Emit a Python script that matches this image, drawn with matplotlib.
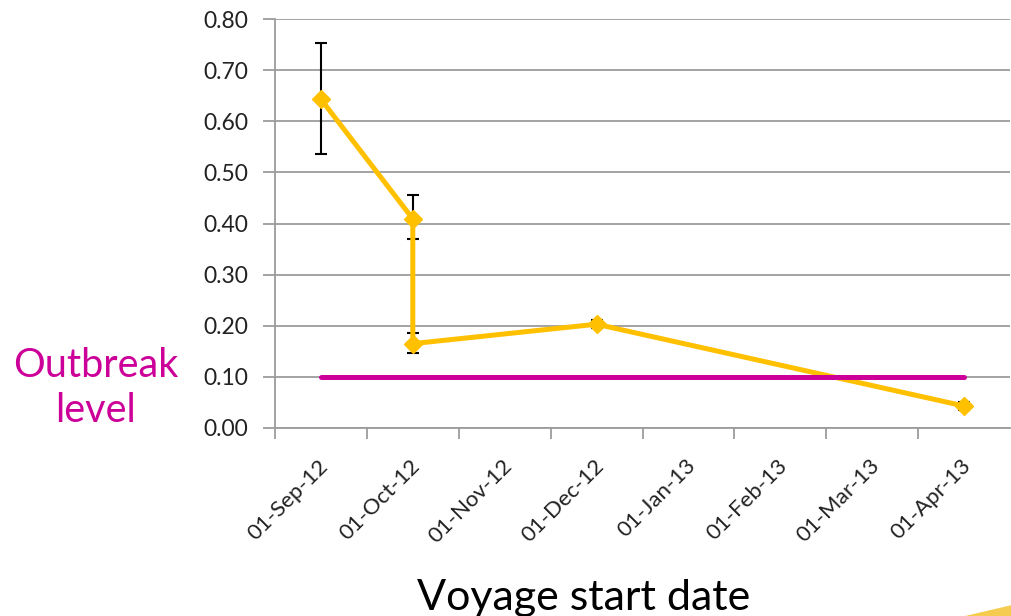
import numpy as np
import pandas as pd
from matplotlib import pyplot as plt
from matplotlib.transforms import ScaledTranslation
from matplotlib.patches import Polygon

# months shown on the date axis (Excel style, one slot per month)
month_labels = ['01-Sep-12', '01-Oct-12', '01-Nov-12', '01-Dec-12',
                '01-Jan-13', '01-Feb-13', '01-Mar-13', '01-Apr-13']

voyage_dates = ['2012-09-01', '2012-10-01', '2012-10-01', '2012-12-01', '2013-04-01']
attack_rate = [0.643, 0.409, 0.165, 0.203, 0.043]
err_low = [0.535, 0.369, 0.147, 0.195, 0.036]
err_high = [0.753, 0.455, 0.186, 0.212, 0.051]

outbreak_level = 0.10
outbreak_span = ['2012-09-01', '2013-04-01']

y_ticks = [0.0, 0.1, 0.2, 0.3, 0.4, 0.5, 0.6, 0.7, 0.8]

GOLD = '#FFC000'
MAGENTA = '#CC0099'
GRID = '#9c9c9c'
W, H = 1011, 616


def month_index(dates, start='2012-09-01'):
    d = pd.to_datetime(dates)
    s = pd.Timestamp(start)
    return np.array((d.year - s.year) * 12 + (d.month - s.month), dtype=float)


plt.rcParams['font.family'] = ['Lato', 'DejaVu Sans']

fig = plt.figure(figsize=(W / 100, H / 100), dpi=100)
ax = fig.add_axes([275 / W, (H - 428) / H, (1010 - 275) / W, (428 - 19) / H])

x = month_index(voyage_dates)
y = np.array(attack_rate)
yerr = np.vstack([y - np.array(err_low), np.array(err_high) - y])

ax.errorbar(x, y, yerr=yerr, fmt='none', ecolor='black', elinewidth=1.5,
            capsize=4, capthick=1.5, zorder=3)
ax.plot(x, y, color=GOLD, lw=3.6, marker='D', ms=8.8, zorder=4,
        solid_joinstyle='miter')

ox = month_index(outbreak_span)
ax.plot(ox, [outbreak_level, outbreak_level], color=MAGENTA, lw=3.6,
        solid_capstyle='round', zorder=5)

ax.set_xlim(-0.5, len(month_labels) - 0.5)
ax.set_ylim(0, 0.8)

ax.set_yticks(y_ticks)
ax.set_yticklabels([f'{v:.2f}' for v in y_ticks], fontsize=16.5, color='#222222')
ax.yaxis.grid(True, color=GRID, lw=1.3)
ax.set_axisbelow(True)

# tick marks on the month boundaries, labels in the middle of each slot
ax.set_xticks(np.arange(len(month_labels)))
ax.set_xticklabels(month_labels, rotation=45, ha='right', va='center',
                   rotation_mode='anchor', fontsize=16, color='#222222')
ax.set_xticks(np.arange(len(month_labels)) - 0.5, minor=True)
ax.tick_params(axis='x', which='major', length=0, pad=25)
ax.tick_params(axis='x', which='minor', length=8, color=GRID, width=1.3)
ax.tick_params(axis='y', length=9, color=GRID, width=1.3, pad=10)
for lbl in ax.get_xticklabels():
    lbl.set_transform(lbl.get_transform() + ScaledTranslation(0.04, 0, fig.dpi_scale_trans))

for side in ['top', 'right']:
    ax.spines[side].set_visible(False)
for side in ['left', 'bottom']:
    ax.spines[side].set_color(GRID)
    ax.spines[side].set_linewidth(1.3)

fig.text(96 / W, 1 - 388 / H, 'Outbreak\nlevel', color=MAGENTA, fontsize=28.5,
         ha='center', va='center', linespacing=1.28)
fig.text(584 / W, 1 - 610 / H, 'Voyage start date', color='black', fontsize=31,
         ha='center', va='baseline')

# faint slide decoration in the bottom right corner
fig.patches.append(Polygon([[965 / W, 0], [1 + 0.001, 11 / H], [1 + 0.001, 0]],
                           closed=True, transform=fig.transFigure,
                           facecolor='#F2B705', edgecolor='none', alpha=0.7))

fig.savefig('out.png', dpi=100)
